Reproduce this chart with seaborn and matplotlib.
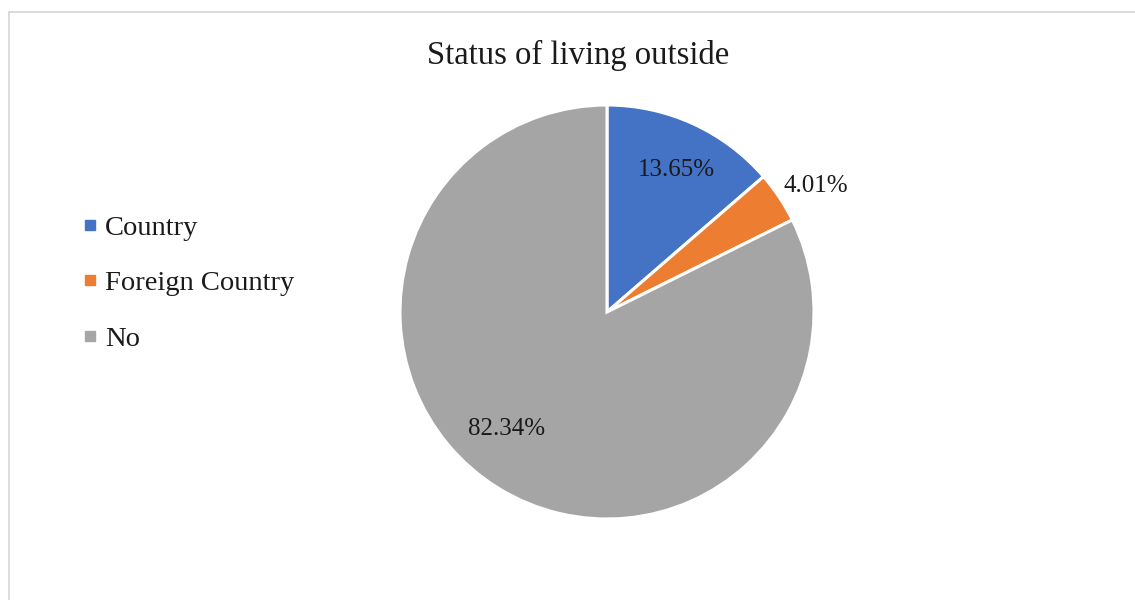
import matplotlib
matplotlib.use("Agg")
import matplotlib.pyplot as plt
from matplotlib.lines import Line2D
from matplotlib.patches import Rectangle
import numpy as np
import seaborn as sns

# Data
categories = ["Country", "Foreign Country", "No"]
shares = [13.65, 4.01, 82.34]
colors = ["#4472C4", "#ED7D31", "#A5A5A5"]
title = "Status of living outside"

sns.set_theme(style="white")
plt.rcParams["font.family"] = ["Liberation Serif", "DejaVu Serif"]

W, H = 1135, 600
fig = plt.figure(figsize=(W / 100, H / 100), dpi=100)
fig.patch.set_facecolor("white")

# Pie axes: centre (607, 312) px, radius 207 px
cx, cy, r = 607, 312, 207
ax = fig.add_axes([(cx - r) / W, (H - cy - r) / H, 2 * r / W, 2 * r / H])
wedges, _ = ax.pie(
    shares, colors=colors, startangle=90, counterclock=False,
    wedgeprops=dict(edgecolor="white", linewidth=2.2),
)
ax.set_xlim(-1, 1)
ax.set_ylim(-1, 1)
ax.set_aspect("equal")
ax.axis("off")

# Percentage labels placed along each wedge's bisector
label_radius = [0.765, 1.18, 0.745]
label_shift = [-1.5, -2.5, -9.0]
for w, val, rad, sh in zip(wedges, shares, label_radius, label_shift):
    ang = np.deg2rad((w.theta1 + w.theta2) / 2 + sh)
    ax.text(rad * np.cos(ang), rad * np.sin(ang), f"{val:.2f}%",
            ha="center", va="center", fontsize=18, color="#1a1a1a",
            clip_on=False)

fig.text(578 / W, 1 - 55 / H, title, ha="center", va="center",
         fontsize=23.5, color="#1a1a1a")

handles = [Line2D([0], [0], marker="s", linestyle="none", markersize=7.5,
                  markerfacecolor=c, markeredgecolor=c) for c in colors]
fig.legend(handles, categories, loc="upper left",
           bbox_to_anchor=(67.5 / W, 1 - 201 / H), frameon=False,
           fontsize=20.5, handlelength=0.6, handletextpad=0.22,
           labelspacing=1.03, borderpad=0, labelcolor="#1a1a1a")

# Light chart-area border (top and left edges visible)
fig.add_artist(Rectangle((9 / W, -0.1), 1.2, 1 - 12 / H + 0.1,
                         transform=fig.transFigure, fill=False,
                         edgecolor="#d9d9d9", linewidth=1.3))

fig.savefig("out.png", dpi=100, facecolor="white")
